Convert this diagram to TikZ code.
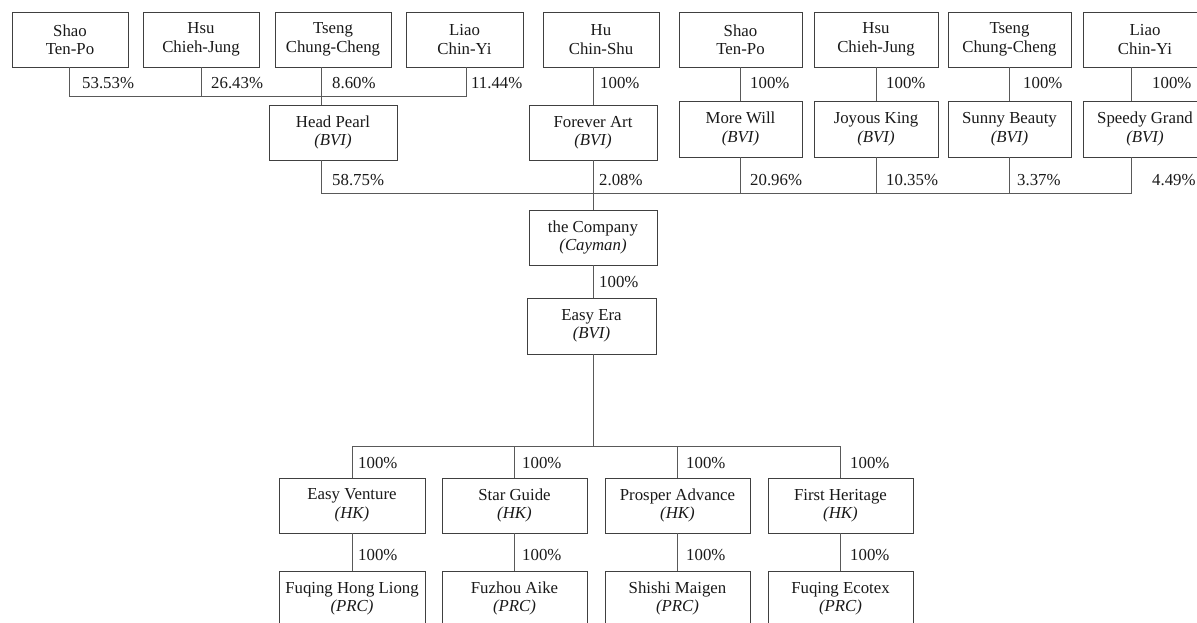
\documentclass[tikz,border=0pt]{standalone}
\usepackage{fontspec}
\setmainfont{Liberation Serif}
\begin{document}
\begin{tikzpicture}[x=1pt,y=-1pt,
  ent/.style={draw=black!75, line width=0.9pt, fill=white, align=center,
    inner sep=0pt, font=\fontsize{16.8}{18.5}\selectfont, text=black!90},
  pct/.style={anchor=base west, inner sep=0pt, font=\fontsize{16.8}{18.5}\selectfont, text=black!90},
  link/.style={draw=black!65, line width=0.9pt}]
\useasboundingbox (0,0) rectangle (1197,622);
\clip (0,0) rectangle (1197,622);
% top row
\node[ent, minimum width=116pt, minimum height=55pt] (s1) at (70,39.5) {Shao\\Ten-Po};
\node[ent, minimum width=116pt, minimum height=55pt] (h1) at (201,39.5) {Hsu\\Chieh-Jung};
\node[ent, minimum width=116pt, minimum height=55pt] (t1) at (333,39.5) {Tseng\\Chung-Cheng};
\node[ent, minimum width=117pt, minimum height=55pt] (l1) at (464.5,39.5) {Liao\\Chin-Yi};
\node[ent, minimum width=116pt, minimum height=55pt] (hu) at (601,39.5) {Hu\\Chin-Shu};
\node[ent, minimum width=123pt, minimum height=55pt] (s2) at (740.5,39.5) {Shao\\Ten-Po};
\node[ent, minimum width=124pt, minimum height=55pt] (h2) at (876,39.5) {Hsu\\Chieh-Jung};
\node[ent, minimum width=123pt, minimum height=55pt] (t2) at (1009.5,39.5) {Tseng\\Chung-Cheng};
\node[ent, minimum width=124pt, minimum height=55pt] (l2) at (1145,39.5) {Liao\\Chin-Yi};
% second row
\node[ent, minimum width=128pt, minimum height=55pt] (hp) at (333,132.5) {Head Pearl\\\textit{(BVI)}};
\node[ent, minimum width=128pt, minimum height=55pt] (fa) at (593,132.5) {Forever Art\\\textit{(BVI)}};
\node[ent, minimum width=123pt, minimum height=56pt] (mw) at (740.5,129) {More Will\\\textit{(BVI)}};
\node[ent, minimum width=124pt, minimum height=56pt] (jk) at (876,129) {Joyous King\\\textit{(BVI)}};
\node[ent, minimum width=123pt, minimum height=56pt] (sb) at (1009.5,129) {Sunny Beauty\\\textit{(BVI)}};
\node[ent, minimum width=124pt, minimum height=56pt] (sg) at (1145,129) {Speedy Grand\\\textit{(BVI)}};
% company, easy era
\node[ent, minimum width=128pt, minimum height=55pt] (co) at (593,237.5) {the Company\\\textit{(Cayman)}};
\node[ent, minimum width=129pt, minimum height=56pt] (ee) at (591.5,326) {Easy Era\\\textit{(BVI)}};
% HK row
\node[ent, minimum width=146pt, minimum height=55pt] (ev) at (352,505.5) {Easy Venture\\\textit{(HK)}};
\node[ent, minimum width=145pt, minimum height=55pt] (sgd) at (514.5,505.5) {Star Guide\\\textit{(HK)}};
\node[ent, minimum width=145pt, minimum height=55pt] (pa) at (677.5,505.5) {Prosper Advance\\\textit{(HK)}};
\node[ent, minimum width=145pt, minimum height=55pt] (fh) at (840.5,505.5) {First Heritage\\\textit{(HK)}};
% PRC row
\node[ent, minimum width=146pt, minimum height=55pt] (fq) at (352,598.5) {Fuqing Hong Liong\\\textit{(PRC)}};
\node[ent, minimum width=145pt, minimum height=55pt] (fz) at (514.5,598.5) {Fuzhou Aike\\\textit{(PRC)}};
\node[ent, minimum width=145pt, minimum height=55pt] (sm) at (677.5,598.5) {Shishi Maigen\\\textit{(PRC)}};
\node[ent, minimum width=145pt, minimum height=55pt] (fe) at (840.5,598.5) {Fuqing Ecotex\\\textit{(PRC)}};
% junction coordinates
\coordinate (busA) at (0,96);
\coordinate (busB) at (0,193);
\coordinate (busC) at (0,446);
\coordinate (jS) at (69,0);
\coordinate (jI) at (466,0);
\coordinate (jT) at (321,0);
\coordinate (jL) at (1131,0);
% connectors top
\draw[link] (jS|-s1.south) -- (jS|-busA) -- (jI|-busA) -- (jI|-l1.south);
\draw[link] (h1.south) -- (h1.south|-busA);
\draw[link] (jT|-t1.south) -- (jT|-hp.north);
\draw[link] (fa.north|-hu.south) -- (fa.north);
\draw[link] (s2.south) -- (mw.north);
\draw[link] (h2.south) -- (jk.north);
\draw[link] (t2.south) -- (sb.north);
\draw[link] (jL|-l2.south) -- (jL|-sg.north);
% second bus
\draw[link] (jT|-hp.south) -- (jT|-busB) -- (jL|-busB) -- (jL|-sg.south);
\draw[link] (fa.south) -- (co.north);
\draw[link] (mw.south) -- (mw.south|-busB);
\draw[link] (jk.south) -- (jk.south|-busB);
\draw[link] (sb.south) -- (sb.south|-busB);
% company down
\draw[link] (co.south) -- (co.south|-ee.north);
\draw[link] (co.south|-ee.south) -- (co.south|-busC);
\draw[link] (ev.north) -- (ev.north|-busC) -- (fh.north|-busC) -- (fh.north);
\draw[link] (sgd.north|-busC) -- (sgd.north);
\draw[link] (pa.north|-busC) -- (pa.north);
\draw[link] (ev.south) -- (fq.north);
\draw[link] (sgd.south) -- (fz.north);
\draw[link] (pa.south) -- (sm.north);
\draw[link] (fh.south) -- (fe.north);
% percentages row 1
\node[pct] (p1) at (82,88) {53.53\%};
\node[pct] (p2) at (211,88) {26.43\%};
\node[pct] (p3) at (332,88) {8.60\%};
\node[pct] (p4) at (471,88) {11.44\%};
\node[pct] (p5) at (600,88) {100\%};
\node[pct] (p6) at (750,88) {100\%};
\node[pct] (p7) at (886,88) {100\%};
\node[pct] (p8) at (1023,88) {100\%};
\node[pct] (p9) at (1152,88) {100\%};
% row 2
\node[pct] (q1) at (332,185) {58.75\%};
\node[pct] (q2) at (599,185) {2.08\%};
\node[pct] (q3) at (750,185) {20.96\%};
\node[pct] (q4) at (886,185) {10.35\%};
\node[pct] (q5) at (1017,185) {3.37\%};
\node[pct] (q6) at (1152,185) {4.49\%};
% company
\node[pct] (r1) at (599,287) {100\%};
% HK
\node[pct] (u1) at (358,468) {100\%};
\node[pct] (u2) at (522,468) {100\%};
\node[pct] (u3) at (686,468) {100\%};
\node[pct] (u4) at (850,468) {100\%};
% PRC
\node[pct] (v1) at (358,560) {100\%};
\node[pct] (v2) at (522,560) {100\%};
\node[pct] (v3) at (686,560) {100\%};
\node[pct] (v4) at (850,560) {100\%};
\end{tikzpicture}
\end{document}
